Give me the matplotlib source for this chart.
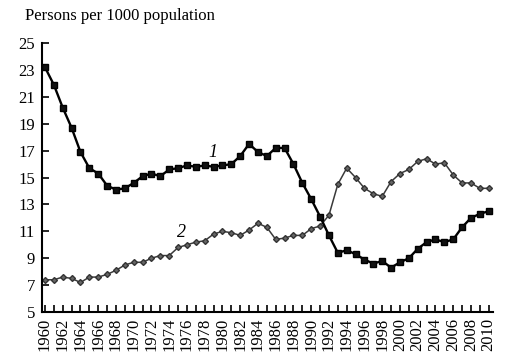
import numpy as np
import matplotlib.pyplot as plt

plt.rcParams['font.family'] = ['Liberation Serif', 'DejaVu Serif']

# years and rates per 1000 population
years = list(range(1960, 2011))
series_1 = [23.2, 21.9, 20.2, 18.7, 16.9, 15.7, 15.3, 14.4, 14.1, 14.2,
            14.6, 15.1, 15.3, 15.1, 15.6, 15.7, 15.9, 15.8, 15.9, 15.8,
            15.9, 16.0, 16.6, 17.5, 16.9, 16.6, 17.2, 17.2, 16.0, 14.6,
            13.4, 12.1, 10.7, 9.4, 9.6, 9.3, 8.9, 8.6, 8.8, 8.3,
            8.7, 9.0, 9.7, 10.2, 10.4, 10.2, 10.4, 11.3, 12.0, 12.3, 12.5]
series_2 = [7.4, 7.4, 7.6, 7.5, 7.2, 7.6, 7.6, 7.8, 8.1, 8.5,
            8.7, 8.7, 9.0, 9.2, 9.2, 9.8, 10.0, 10.2, 10.3, 10.8,
            11.0, 10.9, 10.7, 11.1, 11.6, 11.3, 10.4, 10.5, 10.7, 10.7,
            11.2, 11.4, 12.2, 14.5, 15.7, 15.0, 14.2, 13.8, 13.6, 14.7,
            15.3, 15.6, 16.2, 16.4, 16.0, 16.1, 15.2, 14.6, 14.6, 14.2, 14.2]
y_ticks = list(range(5, 26, 2))

fig = plt.figure(figsize=(5.18, 3.62), dpi=100)
ax = fig.add_axes([0.081, 0.138, 0.871, 0.743])

ax.plot(years, series_2, color='#3a3a3a', linewidth=1.1, marker='D',
        markersize=3, markerfacecolor='#666666', markeredgecolor='#333333')
ax.plot(years, series_1, color='black', linewidth=1.7, marker='s',
        markersize=4.8, markerfacecolor='#111111', markeredgecolor='black')

ax.text(1978.9, 16.9, '1', fontsize=13, style='italic', ha='center', va='center')
ax.text(1975.4, 10.9, '2', fontsize=13, style='italic', ha='center', va='center')

ax.set_xlim(1959.66, 2010.5)
ax.set_ylim(5, 25)
ax.set_yticks(y_ticks)
ax.set_xticks(years)
ax.set_xticklabels([str(y) if y % 2 == 0 else '' for y in years], rotation=90)

for s in ['top', 'right']:
    ax.spines[s].set_visible(False)
for s in ['left', 'bottom']:
    ax.spines[s].set_linewidth(1.5)

ax.tick_params(axis='both', direction='in', length=5, width=1.2, labelsize=12)
ax.tick_params(axis='y', pad=5)
ax.tick_params(axis='x', pad=4)

fig.text(0.048, 0.935, 'Persons per 1000 population', fontsize=12, ha='left', va='bottom')

fig.savefig('out.png', dpi=100)
